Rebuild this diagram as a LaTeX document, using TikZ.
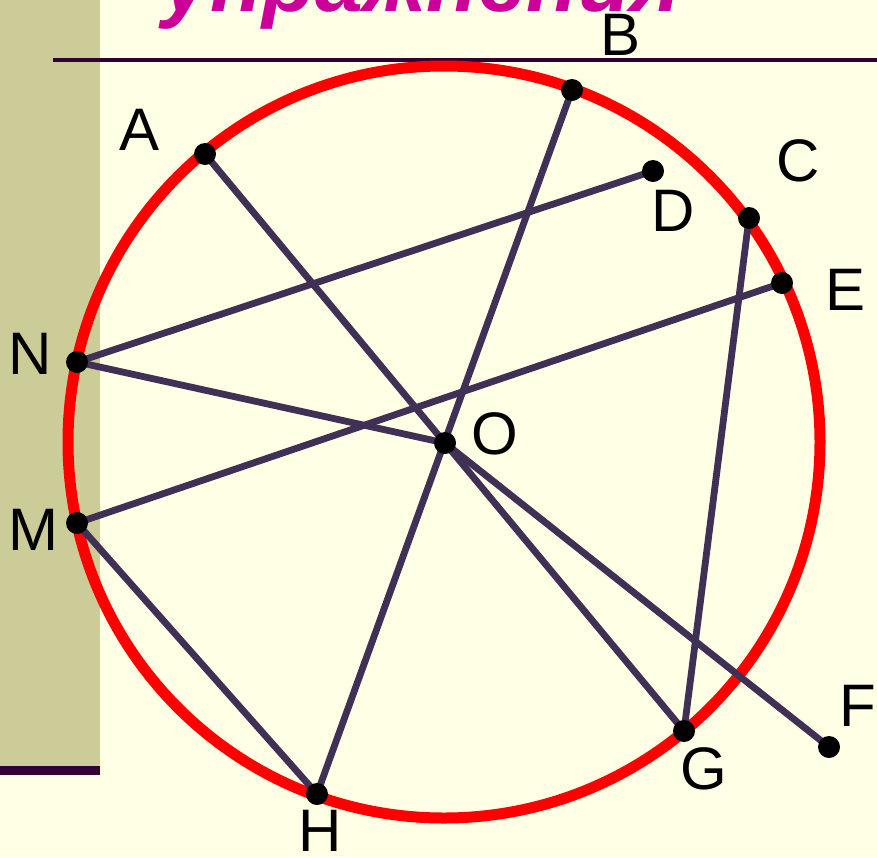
\documentclass[tikz,border=0pt]{standalone}
\usepackage{fontspec}
\setmainfont{Liberation Sans}
\definecolor{paper}{RGB}{255,255,229}
\definecolor{bar}{RGB}{204,204,153}
\definecolor{rule}{RGB}{51,0,51}
\definecolor{chord}{RGB}{65,48,85}
\definecolor{title}{RGB}{204,0,153}
\tikzset{
  pt/.style={circle, fill=black, inner sep=0pt, minimum size=11pt},
  lbl/.style={font=\fontsize{30}{32}\selectfont, inner sep=0pt},
  seg/.style={chord, line width=3.4pt},
  rim/.style={red, line width=5.5pt},
}
\begin{document}
\begin{tikzpicture}[x=0.5pt,y=-0.5pt]
        \clip (0,0) rectangle (877,857);
        \fill[paper] (0,0) rectangle (877,857);
        \fill[bar] (0,0) rectangle (100,766);
        \fill[rule] (0,766) rectangle (100,775);
        \draw[rule,line width=2pt] (53,60) -- (877,60);
        \node[font=\fontsize{43}{46}\selectfont\bfseries\itshape,text=title,anchor=base west,inner sep=0pt] (ttl) at (162,11) {упражнения};
        % circle
        \draw[rim] (444,442) circle[radius=376];
        % points
        \coordinate (A) at (205,154);
        \coordinate (B) at (572,90);
        \coordinate (C) at (749,218);
        \coordinate (D) at (653,171);
        \coordinate (E) at (782,283);
        \coordinate (N) at (77,362);
        \coordinate (M) at (77,523);
        \coordinate (O) at (445,443);
        \coordinate (F) at (829,747);
        \coordinate (G) at (684,731);
        \coordinate (H) at (317,794);
        % chords
        \draw[seg] (A) -- (G);
        \draw[seg] (B) -- (H);
        \draw[seg] (N) -- (D);
        \draw[seg] (N) -- (O);
        \draw[seg] (O) -- (F);
        \draw[seg] (M) -- (E);
        \draw[seg] (M) -- (H);
        \draw[seg] (C) -- (G);
        \foreach \p in {A,B,C,D,E,N,M,O,F,G,H}
          \node[pt] (dot\p) at (\p) {};
        % labels
        \node[lbl] (lA) at (140,130) {A};
        \node[lbl] (lB) at (621,35) {B};
        \node[lbl] (lC) at (798,161) {C};
        \node[lbl] (lD) at (673,211) {D};
        \node[lbl] (lE) at (845,290) {E};
        \node[lbl] (lN) at (30,354) {N};
        \node[lbl] (lM) at (33,530) {M};
        \node[lbl] (lO) at (495,434) {O};
        \node[lbl] (lF) at (858,706) {F};
        \node[lbl] (lG) at (704,769) {G};
        \node[lbl] (lH) at (320,831) {H};
\end{tikzpicture}
\end{document}
